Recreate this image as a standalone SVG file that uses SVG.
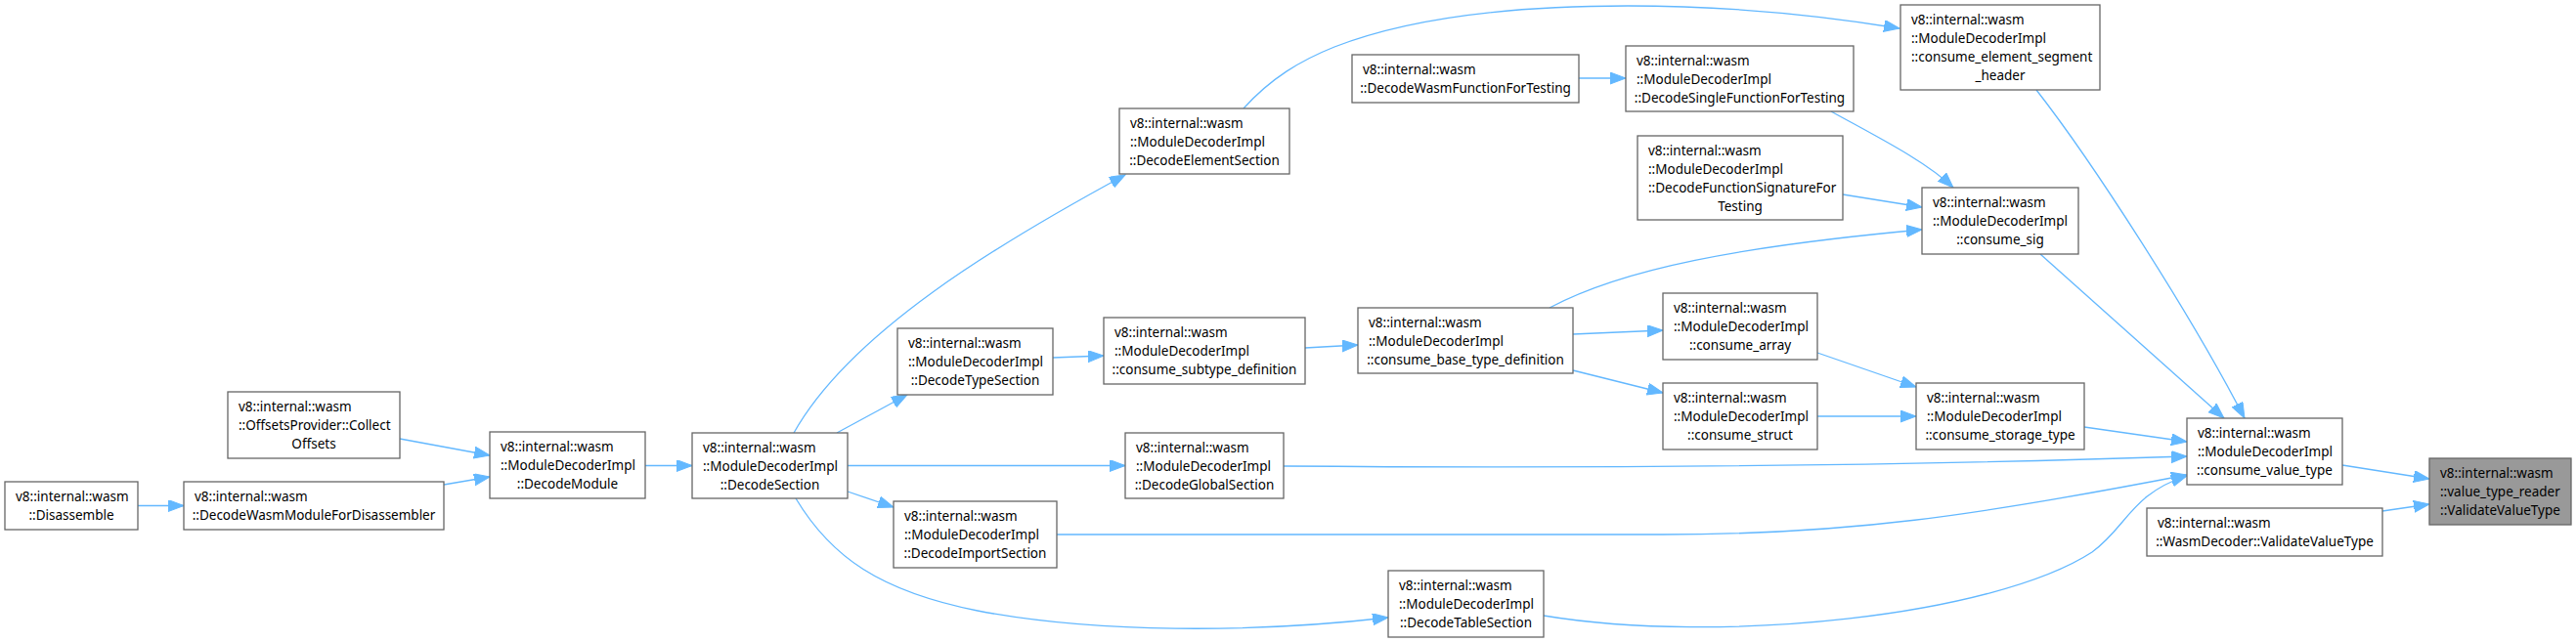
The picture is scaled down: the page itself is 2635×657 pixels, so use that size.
<svg xmlns="http://www.w3.org/2000/svg" width="2635" height="657" viewBox="0 0 2635 657">
<style>
.n rect{fill:#ffffff;stroke:#666666;stroke-width:1.3}
.g rect{fill:#999999}
text{font-family:"Noto Sans","Liberation Sans",sans-serif;font-size:13.5px;fill:#000000}
.c{text-anchor:middle}
#edges path{fill:none;stroke:#63b8ff;stroke-width:1.3;marker-end:url(#arr)}
</style>
<defs>
<marker id="arr" markerUnits="userSpaceOnUse" markerWidth="18" markerHeight="14" refX="16" refY="6" orient="auto">
<path d="M0,0 L16,6 L0,12 Z" fill="#63b8ff" stroke="#63b8ff" stroke-width="1"/>
</marker>
</defs>
<rect width="2635" height="657" fill="#ffffff"/>
<g id="edges">
<path d="M141,517.5 L188,517.5"/>
<path d="M454,496 L501,488"/>
<path d="M409,449 L501,466"/>
<path d="M660,476.5 L708,476.5"/>
<path d="M812,443 C870,340 1020,250 1151,179"/>
<path d="M1272,111 C1300,80 1330,62 1365,48 C1450,15 1560,6 1665,6 C1770,6 1870,17 1943,29"/>
<path d="M856,443 L928,404"/>
<path d="M1077,366 L1129,364"/>
<path d="M1335,356 L1389,353"/>
<path d="M1585,315 C1660,275 1780,252 1966,235"/>
<path d="M1873,114 C1920,140 1970,165 1998,192"/>
<path d="M1885,199 L1966,212"/>
<path d="M1615,80 L1663,80"/>
<path d="M1609,342 L1701,338"/>
<path d="M1609,379 L1701,402"/>
<path d="M1859,361 L1960,396"/>
<path d="M1859,426 L1960,426"/>
<path d="M2132,437 L2237,452"/>
<path d="M1313,477 C1700,480 2000,475 2237,467"/>
<path d="M1081,547 L1700,547 C1890,547 2020,528 2237,486"/>
<path d="M867,503 L914,519"/>
<path d="M867,476.5 L1151,476.5"/>
<path d="M814,510 C850,570 900,605 1000,625 C1120,648 1280,648 1420,632"/>
<path d="M1579,630 C1760,660 2040,630 2140,565 C2175,540 2180,505 2237,487"/>
<path d="M2087,260 L2275,428"/>
<path d="M2083,92 C2140,165 2240,320 2296,428"/>
<path d="M2396,476 L2485,490"/>
<path d="M2437,523 L2485,516"/>
</g>
<g id="n1" class="n"><rect x="5" y="493" width="136" height="49"/><text x="16" y="512.5">v8::internal::wasm</text><text class="c" x="73" y="531.5">::Disassemble</text></g>
<g id="n2" class="n"><rect x="188" y="493" width="266" height="49"/><text x="199" y="512.5">v8::internal::wasm</text><text class="c" x="321" y="531.5">::DecodeWasmModuleForDisassembler</text></g>
<g id="n3" class="n"><rect x="233" y="401" width="176" height="68"/><text x="244" y="420.5">v8::internal::wasm</text><text x="244" y="439.5">::OffsetsProvider::Collect</text><text class="c" x="321" y="458.5">Offsets</text></g>
<g id="n4" class="n"><rect x="501" y="442" width="159" height="68"/><text x="512" y="461.5">v8::internal::wasm</text><text x="512" y="480.5">::ModuleDecoderImpl</text><text class="c" x="580.5" y="499.5">::DecodeModule</text></g>
<g id="n5" class="n"><rect x="708" y="443" width="159" height="67"/><text x="719" y="462.5">v8::internal::wasm</text><text x="719" y="481.5">::ModuleDecoderImpl</text><text class="c" x="787.5" y="500.5">::DecodeSection</text></g>
<g id="n6" class="n"><rect x="1145" y="111" width="174" height="67"/><text x="1156" y="130.5">v8::internal::wasm</text><text x="1156" y="149.5">::ModuleDecoderImpl</text><text class="c" x="1232" y="168.5">::DecodeElementSection</text></g>
<g id="n7" class="n"><rect x="918" y="336" width="159" height="68"/><text x="929" y="355.5">v8::internal::wasm</text><text x="929" y="374.5">::ModuleDecoderImpl</text><text class="c" x="997.5" y="393.5">::DecodeTypeSection</text></g>
<g id="n8" class="n"><rect x="1151" y="443" width="162" height="67"/><text x="1162" y="462.5">v8::internal::wasm</text><text x="1162" y="481.5">::ModuleDecoderImpl</text><text class="c" x="1232" y="500.5">::DecodeGlobalSection</text></g>
<g id="n9" class="n"><rect x="914" y="513" width="167" height="68"/><text x="925" y="532.5">v8::internal::wasm</text><text x="925" y="551.5">::ModuleDecoderImpl</text><text class="c" x="997.5" y="570.5">::DecodeImportSection</text></g>
<g id="n10" class="n"><rect x="1420" y="584" width="159" height="68"/><text x="1431" y="603.5">v8::internal::wasm</text><text x="1431" y="622.5">::ModuleDecoderImpl</text><text class="c" x="1499.5" y="641.5">::DecodeTableSection</text></g>
<g id="n11" class="n"><rect x="1129" y="325" width="206" height="68"/><text x="1140" y="344.5">v8::internal::wasm</text><text x="1140" y="363.5">::ModuleDecoderImpl</text><text class="c" x="1232" y="382.5">::consume_subtype_definition</text></g>
<g id="n12" class="n"><rect x="1389" y="315" width="220" height="67"/><text x="1400" y="334.5">v8::internal::wasm</text><text x="1400" y="353.5">::ModuleDecoderImpl</text><text class="c" x="1499" y="372.5">::consume_base_type_definition</text></g>
<g id="n13" class="n"><rect x="1383" y="56" width="232" height="49"/><text x="1394" y="75.5">v8::internal::wasm</text><text class="c" x="1499" y="94.5">::DecodeWasmFunctionForTesting</text></g>
<g id="n14" class="n"><rect x="1663" y="47" width="233" height="67"/><text x="1674" y="66.5">v8::internal::wasm</text><text x="1674" y="85.5">::ModuleDecoderImpl</text><text class="c" x="1779.5" y="104.5">::DecodeSingleFunctionForTesting</text></g>
<g id="n15" class="n"><rect x="1675" y="139" width="210" height="86"/><text x="1686" y="158.5">v8::internal::wasm</text><text x="1686" y="177.5">::ModuleDecoderImpl</text><text x="1686" y="196.5">::DecodeFunctionSignatureFor</text><text class="c" x="1780" y="215.5">Testing</text></g>
<g id="n16" class="n"><rect x="1966" y="192" width="160" height="68"/><text x="1977" y="211.5">v8::internal::wasm</text><text x="1977" y="230.5">::ModuleDecoderImpl</text><text class="c" x="2046" y="249.5">::consume_sig</text></g>
<g id="n17" class="n"><rect x="1701" y="300" width="158" height="68"/><text x="1712" y="319.5">v8::internal::wasm</text><text x="1712" y="338.5">::ModuleDecoderImpl</text><text class="c" x="1780" y="357.5">::consume_array</text></g>
<g id="n18" class="n"><rect x="1701" y="392" width="158" height="68"/><text x="1712" y="411.5">v8::internal::wasm</text><text x="1712" y="430.5">::ModuleDecoderImpl</text><text class="c" x="1780" y="449.5">::consume_struct</text></g>
<g id="n19" class="n"><rect x="1960" y="392" width="172" height="68"/><text x="1971" y="411.5">v8::internal::wasm</text><text x="1971" y="430.5">::ModuleDecoderImpl</text><text class="c" x="2046" y="449.5">::consume_storage_type</text></g>
<g id="n20" class="n"><rect x="1944" y="5" width="204" height="87"/><text x="1955" y="24.5">v8::internal::wasm</text><text x="1955" y="43.5">::ModuleDecoderImpl</text><text x="1955" y="62.5">::consume_element_segment</text><text class="c" x="2046" y="81.5">_header</text></g>
<g id="n21" class="n"><rect x="2237" y="428" width="159" height="68"/><text x="2248" y="447.5">v8::internal::wasm</text><text x="2248" y="466.5">::ModuleDecoderImpl</text><text class="c" x="2316.5" y="485.5">::consume_value_type</text></g>
<g id="n22" class="n"><rect x="2196" y="520" width="241" height="49"/><text x="2207" y="539.5">v8::internal::wasm</text><text class="c" x="2316.5" y="558.5">::WasmDecoder::ValidateValueType</text></g>
<g id="n23" class="n g"><rect x="2485" y="469" width="145" height="68"/><text x="2496" y="488.5">v8::internal::wasm</text><text x="2496" y="507.5">::value_type_reader</text><text class="c" x="2557.5" y="526.5">::ValidateValueType</text></g>
</svg>
